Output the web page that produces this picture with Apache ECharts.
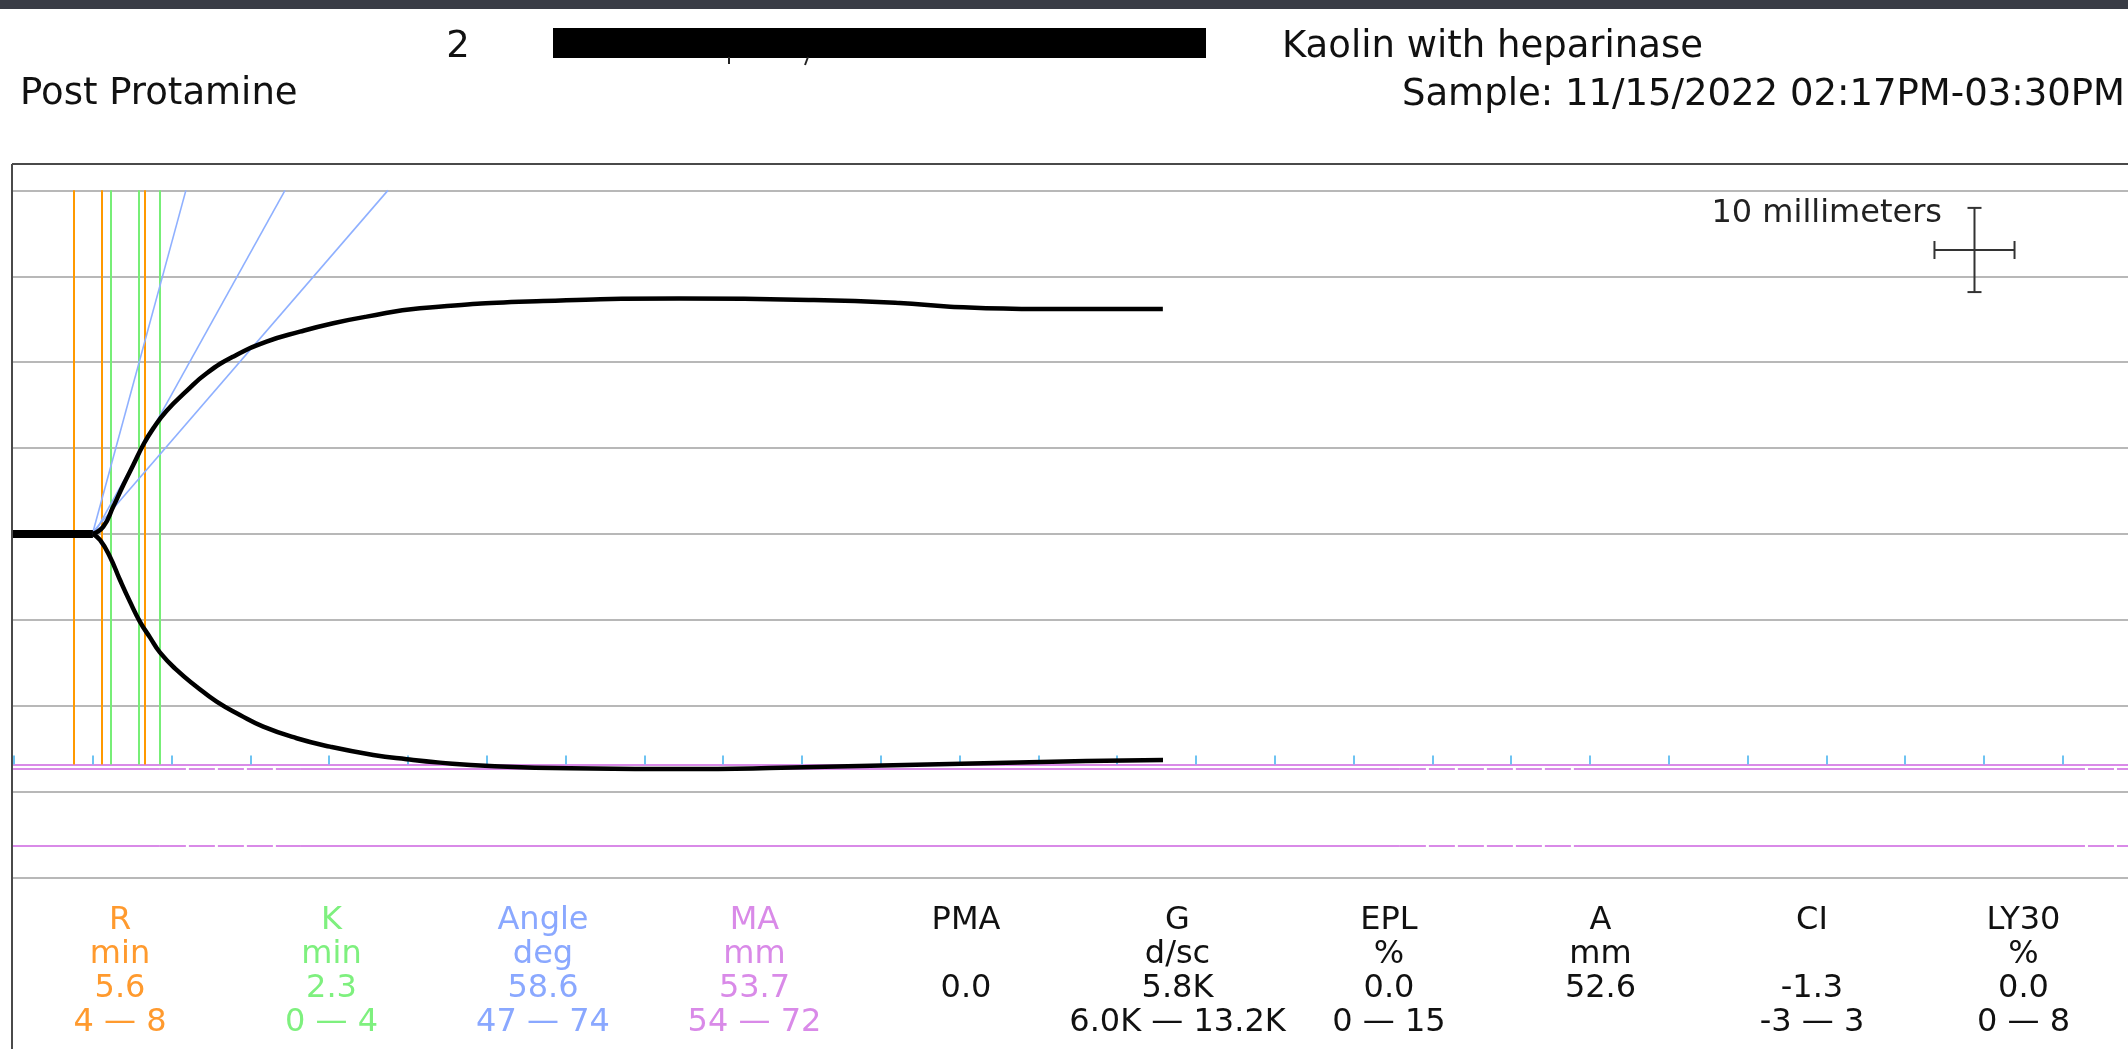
<!DOCTYPE html>
<html>
<head>
<meta charset="utf-8">
<script src="https://cdn.jsdelivr.net/npm/echarts@6/dist/echarts.min.js"></script>
<style>
  html, body { margin: 0; padding: 0; background: #fff; }
  #chart { width: 2128px; height: 1049px; }
</style>
</head>
<body>
<div id="chart"></div>
<script>
// trace, time in minutes / amplitude in mm
const upperTime = [5.01, 5.67, 6.30, 6.94, 7.57, 8.20, 8.84, 9.69, 10.96, 12.23, 13.91, 16.03, 18.15, 20.26, 22.38, 25.76, 33.57, 42.2, 50.76, 56.2, 59.4, 65.1, 72.9];
const upperMm = [0, 0.85, 3.18, 5.70, 8.03, 10.36, 12.29, 14.35, 16.65, 18.71, 20.64, 22.39, 23.55, 24.53, 25.30, 26.27, 27.12, 27.4, 27.24, 26.89, 26.46, 26.19, 26.19];
const lowerTime = [5.01, 5.46, 6.09, 6.73, 7.36, 7.99, 8.63, 9.26, 10.32, 11.59, 12.86, 14.34, 15.82, 17.94, 20.05, 22.8, 24.92, 27.03, 30.2, 35.28, 43.53, 50.76, 59.39, 68.02, 72.91];
const lowerMm = [0, -0.70, -2.64, -5.36, -7.88, -10.20, -12.04, -13.79, -15.83, -17.78, -19.52, -21.07, -22.43, -23.78, -24.76, -25.73, -26.23, -26.62, -27.01, -27.28, -27.36, -27.12, -26.78, -26.43, -26.31];
const baselineTime = [-0.06, 5.01];

// reference lines
const gridMm = [40, 30, 20, 10, 0, -10, -20, -30, -40];
const rLines = [3.81, 5.6, 8.31];
const kLines = [6.14, 7.91, 9.28];
const markerTop = 40;
const markerBottom = -26.85;
const angleStart = [4.98, 5.09, 4.9];
const angleEnd = [10.91, 17.2, 23.73];
const maLine = -26.85;
const maRangeLines = [-27.35, -36.3];
const maSolidSpans = [[-0.06, 9.26], [18.21, 87.94], [99.18, 129.76]];
const maDashedSpans = [[9.26, 18.21], [87.94, 99.18], [129.76, 134.14]];
const tickTimes = [0, 5, 10, 15, 20, 25, 30, 35, 40, 45, 50, 55, 60, 65, 70, 75, 80, 85, 90, 95, 100, 105, 110, 115, 120, 125, 130];
const tickHeight = 1.05;

// scale legend: center (min, mm), half sizes (min, mm)
const crossCenter = [124.4, 33.06];
const crossHalf = [2.54, 4.9];

// results table
const paramNames = ['R', 'K', 'Angle', 'MA', 'PMA', 'G', 'EPL', 'A', 'CI', 'LY30'];
const paramUnits = ['min', 'min', 'deg', 'mm', '', 'd/sc', '%', 'mm', '', '%'];
const paramValues = ['5.6', '2.3', '58.6', '53.7', '0.0', '5.8K', '0.0', '52.6', '-1.3', '0.0'];
const paramRanges = ['4 \u2014 8', '0 \u2014 4', '47 \u2014 74', '54 \u2014 72', '', '6.0K \u2014 13.2K', '0 \u2014 15', '', '-3 \u2014 3', '0 \u2014 8'];

const ORANGE = '#ff9a2e';
const GREEN = '#7ef07e';
const BLUE = '#8aa8ff';
const PINK = '#d98ae8';
const paramColors = [ORANGE, GREEN, BLUE, PINK, '#111', '#111', '#111', '#111', '#111', '#111'];

const FONT = '"DejaVu Sans", Verdana, sans-serif';

// plot box (grid fills container to the right/bottom edges)
const BOX_LEFT = 13;
const BOX_TOP = 164;

const pairs = (xs, ys) => xs.map((x, i) => [x, ys[i]]);

const vLines = (xs) => xs.map(x => [{ coord: [x, markerTop] }, { coord: [x, markerBottom] }]);

const hSpans = (levels, spans) => {
    let out = [];
    levels.forEach(v => {
        spans.forEach(s => out.push([{ coord: [s[0], v] }, { coord: [s[1], v] }]));
    });
    return out;
};

const plainMark = (data, color, width, type) => ({
    silent: true,
    symbol: 'none',
    label: { show: false },
    lineStyle: { color, width, type: type || 'solid', opacity: 1 },
    emphasis: { disabled: true },
    data
});

const markSeries = (name, markLine, z) => ({
    name,
    type: 'line',
    data: [],
    silent: true,
    z: z || 2,
    markLine
});

const traceSeries = (name, data, width) => ({
    name,
    type: 'line',
    data,
    showSymbol: false,
    smooth: 0.5,
    silent: true,
    z: 10,
    lineStyle: { color: '#000', width }
});

// table texts
const COL_X = 120;
const COL_STEP = 211.5;
const ROW_Y = [921, 955, 989, 1023];
const tableText = [];
[paramNames, paramUnits, paramValues, paramRanges].forEach((row, r) => {
    row.forEach((txt, i) => {
        if (!txt) return;
        tableText.push({
            type: 'text',
            x: COL_X + COL_STEP * i,
            y: ROW_Y[r],
            style: {
                text: txt,
                fill: paramColors[i],
                font: '32px ' + FONT,
                textAlign: 'center',
                textVerticalAlign: 'middle'
            }
        });
    });
});

const headerFont = '37px ' + FONT;

const option = {
    animation: false,
    grid: {
        left: BOX_LEFT,
        top: BOX_TOP,
        right: 0,
        bottom: 0,
        show: false
    },
    xAxis: { type: 'value', min: -0.06, max: 134.14, show: false },
    yAxis: { type: 'value', min: -59.96, max: 43.07, show: false },
    series: [
        markSeries('grid', plainMark(gridMm.map(v => ({ yAxis: v })), '#b8b8b8', 2), 1),
        markSeries('ma', plainMark([{ yAxis: maLine }], PINK, 2), 3),
        markSeries('maRange', plainMark(hSpans(maRangeLines, maSolidSpans), PINK, 2), 3),
        markSeries('maRangeDash', plainMark(hSpans(maRangeLines, maDashedSpans), PINK, 2, [26, 3]), 3),
        markSeries('ticks', plainMark(tickTimes.map(t => [{ coord: [t, maLine] }, { coord: [t, maLine + tickHeight] }]), '#6ec3f2', 2), 3),
        markSeries('R', plainMark(vLines(rLines), '#ff9900', 2), 4),
        markSeries('K', plainMark(vLines(kLines), '#77ee77', 2), 4),
        markSeries('angle', plainMark(angleStart.map((t, i) => [{ coord: [t, 0] }, { coord: [angleEnd[i], markerTop] }]), '#8fb0ff', 1.6), 5),
        traceSeries('baseline', baselineTime.map(t => [t, 0]), 8),
        traceSeries('upper', pairs(upperTime, upperMm), 4.5),
        traceSeries('lower', pairs(lowerTime, lowerMm), 4.5),
        {
            name: 'scale',
            type: 'custom',
            silent: true,
            z: 6,
            data: [crossCenter],
            renderItem: (params, api) => {
                const c = api.coord([api.value(0), api.value(1)]);
                const s = api.size(crossHalf);
                const hx = s[0], hy = s[1];
                const st = { stroke: '#333', lineWidth: 2 };
                const seg = (x1, y1, x2, y2) => ({ type: 'line', shape: { x1, y1, x2, y2 }, style: st });
                return {
                    type: 'group',
                    children: [
                        seg(c[0] - hx, c[1], c[0] + hx, c[1]),
                        seg(c[0], c[1] - hy, c[0], c[1] + hy),
                        seg(c[0] - hx, c[1] - 9, c[0] - hx, c[1] + 9),
                        seg(c[0] + hx, c[1] - 9, c[0] + hx, c[1] + 9),
                        seg(c[0] - 7, c[1] - hy, c[0] + 7, c[1] - hy),
                        seg(c[0] - 7, c[1] + hy, c[0] + 7, c[1] + hy)
                    ]
                };
            }
        }
    ],
    graphic: [
        { type: 'rect', shape: { x: 0, y: 0, width: 2128, height: 9 }, style: { fill: '#3a3d46' } },
        // plot box: only top and left edges are on the page
        { type: 'line', shape: { x1: BOX_LEFT - 1, y1: BOX_TOP, x2: 2128, y2: BOX_TOP }, style: { stroke: '#4a4a4a', lineWidth: 2 } },
        { type: 'line', shape: { x1: BOX_LEFT - 1, y1: BOX_TOP, x2: BOX_LEFT - 1, y2: 1049 }, style: { stroke: '#4a4a4a', lineWidth: 2 } },
        { type: 'text', x: 458, y: 47, style: { text: '2', font: headerFont, fill: '#111', textAlign: 'center', textVerticalAlign: 'middle' } },
        { type: 'rect', shape: { x: 553, y: 28, width: 653, height: 30 }, style: { fill: '#000' } },
        // bits of redacted text showing under the box
        { type: 'line', shape: { x1: 729, y1: 57, x2: 729, y2: 64 }, style: { stroke: '#222', lineWidth: 2 } },
        { type: 'line', shape: { x1: 808, y1: 57, x2: 805, y2: 65 }, style: { stroke: '#222', lineWidth: 2 } },
        { type: 'text', x: 1282, y: 47, style: { text: 'Kaolin with heparinase', font: headerFont, fill: '#111', textAlign: 'left', textVerticalAlign: 'middle' } },
        { type: 'text', x: 20, y: 94, style: { text: 'Post Protamine', font: headerFont, fill: '#111', textAlign: 'left', textVerticalAlign: 'middle' } },
        { type: 'text', x: 2125, y: 95, style: { text: 'Sample: 11/15/2022 02:17PM-03:30PM', font: headerFont, fill: '#111', textAlign: 'right', textVerticalAlign: 'middle' } },
        { type: 'text', x: 1942, y: 214, z: 10, style: { text: '10 millimeters', font: '32px ' + FONT, fill: '#222', textAlign: 'right', textVerticalAlign: 'middle' } }
    ].concat(tableText)
};

const chart = echarts.init(document.getElementById('chart'));
chart.setOption(option);
</script>
</body>
</html>
